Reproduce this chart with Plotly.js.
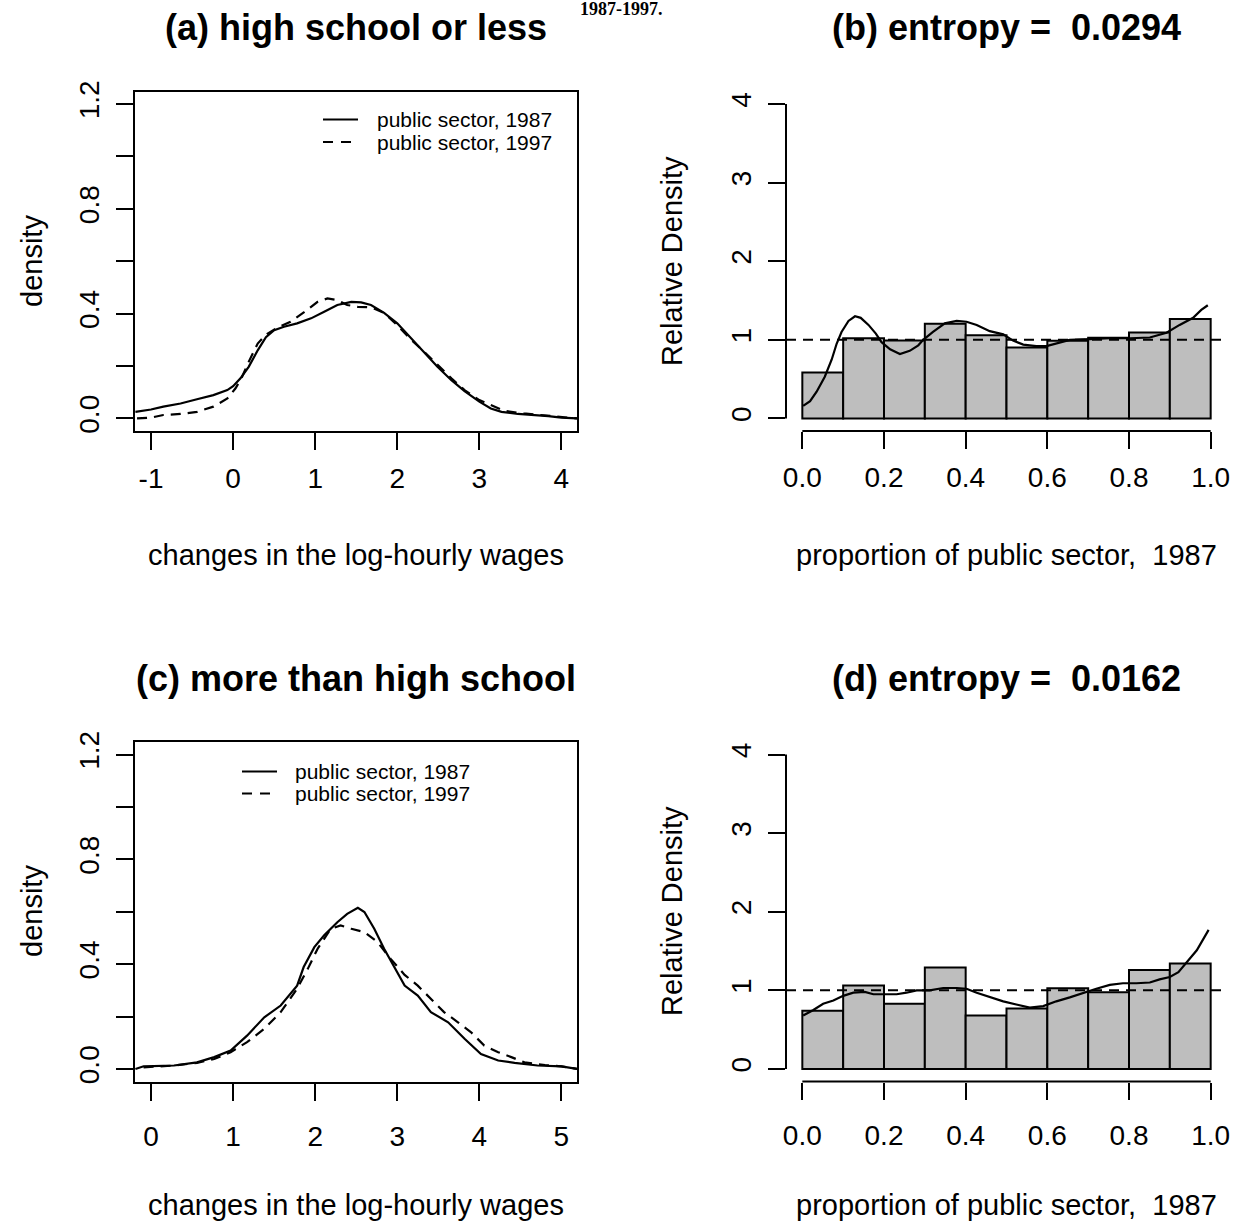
<!DOCTYPE html>
<html>
<head>
<meta charset="utf-8">
<script src="https://cdn.plot.ly/plotly-3.0.1.min.js"></script>
<style>html,body{margin:0;padding:0;background:#fff;}#chart{width:1243px;height:1223px;}</style>
</head>
<body>
<div id="chart"></div>
<script>
// ---------- DATA ----------
// Panel (a): high school or less, density of changes in log-hourly wages
const a1987X = [-1.19,-1.0,-0.85,-0.64,-0.44,-0.24,-0.07,0.0,0.09,0.19,0.30,0.40,0.50,0.62,0.78,0.95,1.11,1.27,1.44,1.56,1.68,1.84,2.0,2.17,2.33,2.49,2.66,2.82,3.0,3.14,3.27,3.47,3.84,4.0,4.19];
const a1987Y = [0.025,0.034,0.045,0.057,0.073,0.089,0.108,0.123,0.153,0.197,0.26,0.31,0.337,0.35,0.363,0.382,0.407,0.433,0.445,0.443,0.433,0.403,0.363,0.305,0.248,0.197,0.146,0.104,0.064,0.038,0.025,0.017,0.009,0.003,0.0];
const a1997X = [-1.17,-1.0,-0.85,-0.64,-0.44,-0.24,-0.07,0.03,0.11,0.19,0.30,0.40,0.54,0.70,0.87,1.03,1.15,1.27,1.39,1.52,1.68,1.84,2.0,2.17,2.33,2.49,2.66,2.82,3.0,3.14,3.30,3.54,3.84,4.0,4.19];
const a1997Y = [0.0,0.003,0.013,0.017,0.025,0.045,0.076,0.115,0.159,0.216,0.286,0.32,0.347,0.369,0.407,0.445,0.458,0.452,0.433,0.426,0.424,0.403,0.356,0.30,0.254,0.204,0.153,0.108,0.07,0.051,0.029,0.019,0.009,0.006,0.0];

// Panel (c): more than high school
const c1987X = [-0.19,-0.09,0.28,0.56,0.77,0.97,1.17,1.38,1.58,1.78,1.86,1.99,2.11,2.27,2.39,2.52,2.60,2.72,2.84,2.96,3.09,3.25,3.41,3.62,3.82,4.02,4.23,4.43,4.71,5.0,5.19];
const c1987Y = [0,0.01,0.013,0.025,0.045,0.07,0.127,0.197,0.242,0.318,0.389,0.465,0.51,0.56,0.592,0.615,0.599,0.535,0.459,0.389,0.318,0.28,0.217,0.178,0.115,0.057,0.032,0.023,0.013,0.01,0];
const c1997X = [-0.09,0.28,0.56,0.77,0.97,1.17,1.38,1.58,1.78,1.91,2.03,2.19,2.31,2.44,2.60,2.76,2.92,3.09,3.25,3.41,3.57,3.74,3.90,4.06,4.23,4.39,4.55,4.80,5.0,5.19];
const c1997Y = [0.006,0.013,0.023,0.038,0.064,0.102,0.153,0.217,0.306,0.382,0.459,0.535,0.548,0.535,0.522,0.484,0.42,0.359,0.318,0.268,0.217,0.178,0.14,0.089,0.064,0.045,0.025,0.015,0.01,0];

// Relative distribution histograms (10 bins on [0,1])
const binCenters = [0.05,0.15,0.25,0.35,0.45,0.55,0.65,0.75,0.85,0.95];
const bBars = [0.585,1.02,0.99,1.205,1.057,0.904,0.987,1.026,1.092,1.266];
const dBars = [0.74,1.06,0.83,1.29,0.68,0.77,1.025,0.975,1.26,1.34];

// Relative density curves
const bCurveX = [0.002,0.019,0.035,0.055,0.072,0.084,0.096,0.113,0.129,0.143,0.162,0.18,0.194,0.215,0.239,0.263,0.284,0.296,0.32,0.349,0.378,0.402,0.427,0.459,0.492,0.516,0.541,0.573,0.598,0.622,0.655,0.704,0.753,0.802,0.851,0.892,0.924,0.957,0.977,0.993];
const bCurveY = [0.16,0.22,0.34,0.53,0.75,0.95,1.10,1.24,1.30,1.28,1.19,1.08,0.97,0.88,0.82,0.86,0.93,1.00,1.10,1.21,1.24,1.23,1.19,1.11,1.07,0.99,0.94,0.92,0.92,0.95,1.00,1.01,1.02,1.02,1.03,1.09,1.19,1.28,1.38,1.44];
const dCurveX = [0.002,0.027,0.051,0.076,0.10,0.125,0.153,0.174,0.198,0.231,0.255,0.28,0.312,0.345,0.378,0.402,0.427,0.459,0.492,0.524,0.557,0.59,0.622,0.655,0.688,0.72,0.753,0.785,0.818,0.851,0.875,0.90,0.921,0.942,0.966,0.995];
const dCurveY = [0.68,0.75,0.83,0.87,0.93,0.97,0.98,0.95,0.95,0.95,0.97,1.0,1.0,1.03,1.03,1.02,0.97,0.92,0.86,0.82,0.78,0.80,0.86,0.91,0.97,1.02,1.07,1.09,1.09,1.10,1.14,1.17,1.23,1.36,1.51,1.77];

// Tick labels
const aXTicks = [-1,0,1,2,3,4];
const cXTicks = [0,1,2,3,4,5];
const densTickVals = [0,0.2,0.4,0.6,0.8,1.0,1.2];
const densTickText = ['0.0','','0.4','','0.8','','1.2'];
const propTickVals = [0,0.2,0.4,0.6,0.8,1.0];
const propTickText = ['0.0','0.2','0.4','0.6','0.8','1.0'];
const relTickVals = [0,1,2,3,4];

// Texts
const titles = ['(a) high school or less','(b) entropy =\u00a0 0.0294','(c) more than high school','(d) entropy =\u00a0 0.0162'];
const xTitleDens = 'changes in the log-hourly wages';
const xTitleProp = 'proportion of public sector,\u00a0 1987';
const yTitleDens = 'density';
const yTitleRel = 'Relative Density';
const legendLabels = ['public sector, 1987','public sector, 1997'];
const topFragment = '1987-1997.';

// ---------- LAYOUT ----------
const W = 1243, H = 1223;
const px = v => v / W;
const py = v => 1 - v / H;
const FONT = 'Liberation Sans, Arial, Helvetica, sans-serif';
const colL = [135, 577], colR = [786, 1227];
const rowT = [91.5, 431], rowB = [742, 1081.5];
const TICKFONT = {family: FONT, size: 28, color: '#000'};

function densAxisX(domain, range, vals, anchor, standoff) {
  return {domain: domain.map(px), range: range, anchor: anchor, tickvals: vals, ticktext: vals.map(String),
    ticks: 'outside', ticklen: 17, tickwidth: 2, tickcolor: '#000', showline: true, mirror: true,
    linewidth: 2, linecolor: '#000', showgrid: false, zeroline: false, tickfont: TICKFONT, ticklabelstandoff: standoff, fixedrange: true};
}
function densAxisY(domain, anchor) {
  return {domain: [py(domain[1]), py(domain[0])], range: [-0.048, 1.248], anchor: anchor,
    tickvals: densTickVals, ticktext: densTickText, tickangle: -90,
    ticks: 'outside', ticklen: 17, tickwidth: 2, tickcolor: '#000', showline: true, mirror: true,
    linewidth: 2, linecolor: '#000', showgrid: false, zeroline: false, tickfont: TICKFONT, ticklabelstandoff: 6, fixedrange: true};
}
function relAxisX(domain, anchor, standoff) {
  return {domain: domain.map(px), range: [-0.04, 1.04], anchor: anchor, tickvals: propTickVals, ticktext: propTickText,
    ticks: 'outside', ticklen: 17, tickwidth: 2, tickcolor: '#000', showline: false,
    showgrid: false, zeroline: false, tickfont: TICKFONT, ticklabelstandoff: standoff, fixedrange: true};
}
function relAxisY(domain, anchor) {
  return {domain: [py(domain[1]), py(domain[0])], range: [-0.16, 4.16], anchor: anchor,
    tickvals: relTickVals, ticktext: relTickVals.map(String), tickangle: -90,
    ticks: 'outside', ticklen: 17, tickwidth: 2, tickcolor: '#000', showline: false,
    showgrid: false, zeroline: false, tickfont: TICKFONT, ticklabelstandoff: 6, fixedrange: true};
}

const solid = {color: '#000', width: 2.2};
const dashed = {color: '#000', width: 2.2, dash: '10px,7px'};

const traces = [
  {type: 'scatter', mode: 'lines', x: a1987X, y: a1987Y, xaxis: 'x', yaxis: 'y', line: solid, showlegend: false, name: legendLabels[0]},
  {type: 'scatter', mode: 'lines', x: a1997X, y: a1997Y, xaxis: 'x', yaxis: 'y', line: dashed, showlegend: false, name: legendLabels[1]},
  {type: 'bar', x: binCenters, y: bBars, width: 0.1, xaxis: 'x2', yaxis: 'y2', marker: {color: '#BEBEBE', line: {color: '#000', width: 2}}, showlegend: false},
  {type: 'scatter', mode: 'lines', x: bCurveX, y: bCurveY, xaxis: 'x2', yaxis: 'y2', line: solid, showlegend: false},
  {type: 'scatter', mode: 'lines', x: c1987X, y: c1987Y, xaxis: 'x3', yaxis: 'y3', line: solid, showlegend: false, name: legendLabels[0]},
  {type: 'scatter', mode: 'lines', x: c1997X, y: c1997Y, xaxis: 'x3', yaxis: 'y3', line: dashed, showlegend: false, name: legendLabels[1]},
  {type: 'bar', x: binCenters, y: dBars, width: 0.1, xaxis: 'x4', yaxis: 'y4', marker: {color: '#BEBEBE', line: {color: '#000', width: 2}}, showlegend: false},
  {type: 'scatter', mode: 'lines', x: dCurveX, y: dCurveY, xaxis: 'x4', yaxis: 'y4', line: solid, showlegend: false}
];

function ann(text, x, y, size, opts) {
  return Object.assign({text: text, x: px(x), y: py(y), xref: 'paper', yref: 'paper', showarrow: false,
    xanchor: 'center', yanchor: 'middle', font: {family: FONT, size: size, color: '#000'}}, opts || {});
}

const annotations = [
  ann('<b>' + titles[0] + '</b>', 356, 28, 36),
  ann('<b>' + titles[1] + '</b>', 1006, 28, 36),
  ann('<b>' + titles[2] + '</b>', 356, 678, 36),
  ann('<b>' + titles[3] + '</b>', 1006, 678, 36),
  ann(xTitleDens, 356, 555, 29),
  ann(xTitleProp, 1006, 555, 29),
  ann(xTitleDens, 356, 1205, 29),
  ann(xTitleProp, 1006, 1205, 29),
  ann(yTitleDens, 32, 261, 29, {textangle: -90}),
  ann(yTitleRel, 672, 261, 29, {textangle: -90}),
  ann(yTitleDens, 32, 911, 29, {textangle: -90}),
  ann(yTitleRel, 672, 911, 29, {textangle: -90}),
  // legends
  ann(legendLabels[0], 375, 119.5, 21, {xanchor: 'left'}),
  ann(legendLabels[1], 375, 142, 21, {xanchor: 'left'}),
  ann(legendLabels[0], 293, 771.5, 21, {xanchor: 'left'}),
  ann(legendLabels[1], 293, 793.5, 21, {xanchor: 'left'}),
  // header fragment at the very top
  ann('<b>' + topFragment + '</b>', 621, 9, 18, {font: {family: 'Liberation Serif, Times New Roman, serif', size: 18, color: '#000'}})
];

function seg(x0, x1, y, dash) {
  return {type: 'line', xref: 'paper', yref: 'paper', x0: px(x0), x1: px(x1), y0: py(y), y1: py(y),
    line: {color: '#000', width: 2, dash: dash ? '10px,8px' : 'solid'}};
}

const shapes = [
  // reference line at relative density 1
  {type: 'line', xref: 'x2 domain', x0: 0, x1: 1, yref: 'y2', y0: 1, y1: 1, line: {color: '#000', width: 2, dash: '10px,7px'}},
  {type: 'line', xref: 'x4 domain', x0: 0, x1: 1, yref: 'y4', y0: 1, y1: 1, line: {color: '#000', width: 2, dash: '10px,7px'}},
  // R-style axis lines spanning first..last tick
  {type: 'line', xref: 'x2', x0: 0, x1: 1, yref: 'y2 domain', y0: 0, y1: 0, line: {color: '#000', width: 2}},
  {type: 'line', xref: 'x2 domain', x0: 0, x1: 0, yref: 'y2', y0: 0, y1: 4, line: {color: '#000', width: 2}},
  {type: 'line', xref: 'x4', x0: 0, x1: 1, yref: 'y4 domain', y0: 0, y1: 0, line: {color: '#000', width: 2}},
  {type: 'line', xref: 'x4 domain', x0: 0, x1: 0, yref: 'y4', y0: 0, y1: 4, line: {color: '#000', width: 2}},
  // legend keys
  seg(323, 358, 119.5, false), seg(323, 358, 142, true),
  seg(242, 277, 771.5, false), seg(242, 277, 793.5, true)
];

const layout = {
  width: W, height: H,
  margin: {l: 0, r: 0, t: 0, b: 0, pad: 0},
  paper_bgcolor: '#fff', plot_bgcolor: '#fff',
  showlegend: false,
  bargap: 0,
  font: {family: FONT, color: '#000'},
  xaxis: densAxisX(colL, [-1.195, 4.19], aXTicks, 'y', 4),
  yaxis: densAxisY(rowT, 'x'),
  xaxis2: relAxisX(colR, 'y2', 4),
  yaxis2: relAxisY(rowT, 'x2'),
  xaxis3: densAxisX(colL, [-0.195, 5.19], cXTicks, 'y3', 12),
  yaxis3: densAxisY(rowB, 'x3'),
  xaxis4: relAxisX(colR, 'y4', 12),
  yaxis4: relAxisY(rowB, 'x4'),
  annotations: annotations,
  shapes: shapes
};

Plotly.newPlot('chart', traces, layout, {staticPlot: true, displayModeBar: false});
</script>
</body>
</html>
